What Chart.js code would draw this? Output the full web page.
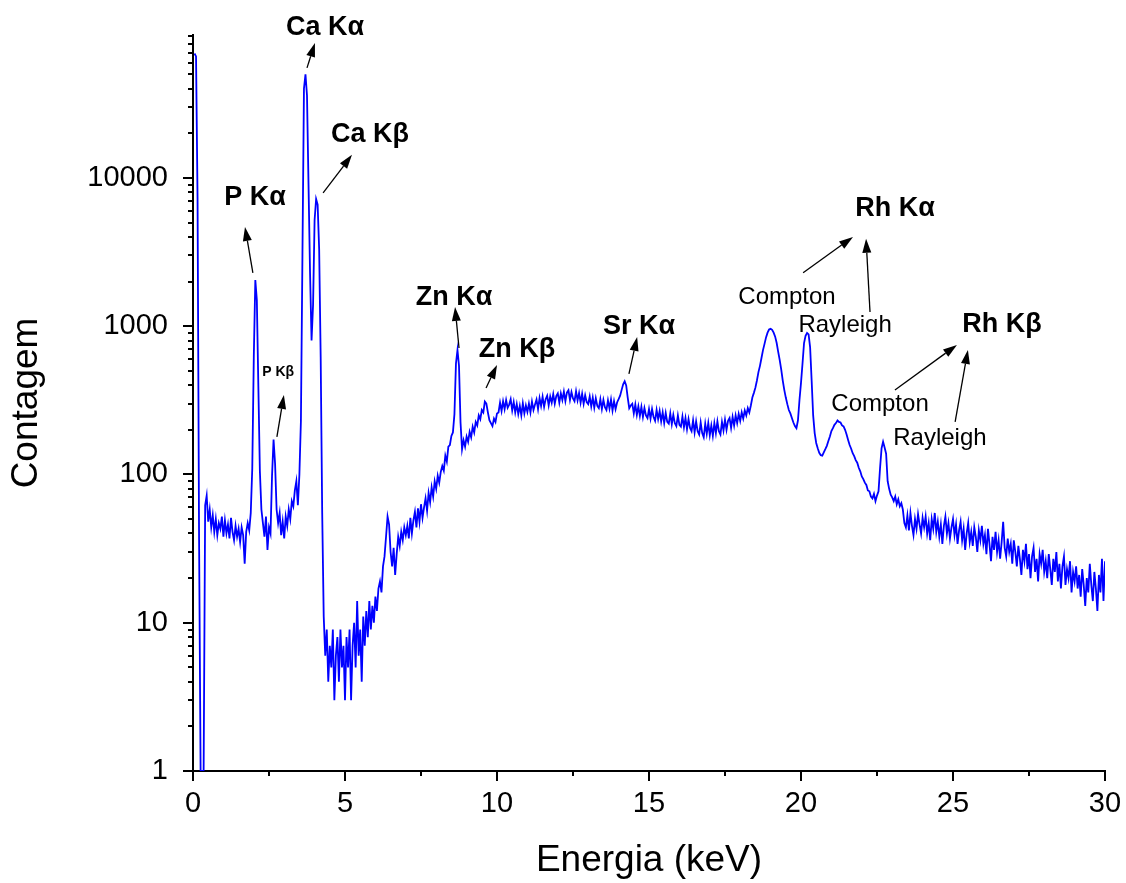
<!DOCTYPE html>
<html lang="pt">
<head>
<meta charset="UTF-8">
<title>Espectro de XRF</title>
<style>
  body { margin: 0; background: #fff; }
  #espectro { display: block; }
</style>
</head>
<body>
<canvas id="espectro" width="1126" height="883"></canvas>
<script src="https://cdn.jsdelivr.net/npm/chart.js@4.4.0/dist/chart.umd.min.js"></script>
<script>
// Contagens por canal, 0,05 keV por canal (primeiro canal em 0,05 keV).
// Uma linha por keV, 20 canais cada.
const passoKeV = 0.05;
const contagem = [
  69000, 66000, 7200, 36, 1, 1, 1, 62, 72, 48, 58, 44, 53, 41, 50, 39, 47, 43, 52, 38,
  49, 40, 46, 37, 51, 41, 36, 45, 38, 43, 35, 44, 39, 25, 41, 47, 42, 55, 110, 620,
  2050, 1500, 390, 105, 58, 47, 38, 52, 31, 44, 40, 98, 172, 118, 58, 47, 55, 39, 48, 37,
  52, 45, 58, 50, 66, 61, 78, 90, 62, 100, 230, 3000, 40000, 50000, 36000, 9000, 2300, 800, 1400, 5200,
  7200, 6600, 3300, 620, 55, 11, 6, 9, 4, 7, 5, 9, 3, 6, 8, 4, 9, 5, 7, 3,
  8, 5, 9, 3, 7, 10, 5, 14, 6, 9, 4, 11, 7, 12, 8, 14, 9, 13, 10, 15,
  12, 17, 19, 16, 24, 28, 38, 52, 46, 30, 24, 32, 21, 29, 38, 33, 41, 36, 44, 39,
  45, 37, 51, 40, 49, 56, 44, 59, 48, 63, 51, 60, 69, 57, 75, 65, 82, 71, 90, 80,
  98, 88, 104, 114, 106, 134, 122, 154, 158, 182, 192, 255, 560, 690, 540, 225, 148, 170, 154, 180,
  166, 194, 178, 210, 192, 226, 214, 250, 236, 272, 262, 310, 300, 262, 232, 222, 212, 238, 226, 258,
  262, 305, 268, 312, 276, 318, 282, 296, 322, 270, 308, 262, 298, 255, 290, 250, 302, 258, 292, 264,
  300, 262, 310, 272, 296, 320, 276, 328, 290, 334, 286, 322, 340, 292, 336, 305, 348, 300, 338, 352,
  305, 352, 318, 362, 312, 356, 370, 318, 360, 326, 312, 364, 316, 354, 305, 350, 300, 342, 308, 298,
  336, 288, 330, 282, 326, 290, 280, 322, 276, 318, 284, 272, 316, 278, 320, 270, 312, 276, 306, 322,
  340, 372, 405, 425, 398, 330, 280, 292, 300, 258, 296, 252, 288, 248, 286, 244, 280, 250, 240, 276,
  238, 276, 244, 230, 272, 236, 268, 228, 262, 222, 260, 226, 220, 258, 218, 252, 222, 212, 250, 216,
  210, 246, 208, 240, 202, 236, 206, 196, 232, 192, 228, 196, 186, 224, 190, 178, 220, 188, 222, 184,
  214, 182, 222, 190, 228, 196, 186, 226, 198, 234, 200, 230, 240, 206, 244, 214, 250, 222, 256, 230,
  262, 238, 270, 250, 280, 262, 292, 330, 355, 385, 430, 490, 540, 610, 690, 760, 840, 905, 950, 960,
  945, 905, 850, 770, 670, 590, 510, 430, 372, 330, 298, 272, 258, 240, 224, 212, 205, 232, 318, 415,
  560, 770, 860, 900, 880, 720, 430, 250, 190, 163, 150, 140, 135, 134, 141, 148, 156, 168, 180, 196,
  205, 216, 222, 231, 226, 224, 214, 211, 200, 186, 171, 158, 149, 139, 133, 125, 120, 111, 105, 97,
  93, 88, 85, 78, 77, 71, 69, 74, 66, 72, 77, 110, 150, 166, 152, 138, 90, 80, 73, 70,
  66, 71, 63, 68, 61, 64, 58, 47, 44, 53, 42, 55, 45, 39, 50, 43, 54, 46, 40, 51,
  44, 52, 40, 47, 36, 50, 43, 55, 41, 48, 38, 46, 34, 45, 52, 40, 47, 37, 44, 50,
  39, 46, 34, 42, 48, 36, 43, 31, 40, 47, 35, 41, 33, 44, 38, 30, 42, 36, 45, 34,
  39, 29, 43, 34, 26, 38, 31, 41, 30, 36, 27, 35, 48, 32, 28, 37, 30, 34, 25, 36,
  30, 24, 33, 27, 21, 31, 26, 34, 23, 29, 20, 28, 32, 22, 27, 19, 29, 25, 31, 22,
  26, 20, 29, 23, 18, 27, 22, 30, 19, 25, 17, 24, 28, 18, 23, 20, 26, 16, 22, 19,
  24, 17, 21, 15, 23, 18, 13, 20, 16, 25, 18, 14, 22, 17, 12, 21, 16, 27, 14, 26
];
// calibração em energia dos canais
const energia = contagem.map((_, i) => +((i + 1) * passoKeV).toFixed(2));

const marcasY = [1, 10, 100, 1000, 10000];
const limitesX = [0, 30];
const limitesY = [1, 92000];

// identificação das linhas (energia em keV, contagem onde fica o texto)
const rotulos = [
  { texto: 'Ca Kα', e: 4.34, c: 102800, tipo: 'linha' },
  { texto: 'Ca Kβ', e: 5.82, c: 19500, tipo: 'linha' },
  { texto: 'P Kα', e: 2.04, c: 7330, tipo: 'linha' },
  { texto: 'P Kβ', e: 2.80, c: 491, tipo: 'menor' },
  { texto: 'Zn Kα', e: 8.59, c: 1552, tipo: 'linha' },
  { texto: 'Zn Kβ', e: 10.66, c: 692, tipo: 'linha' },
  { texto: 'Sr Kα', e: 14.67, c: 988, tipo: 'linha' },
  { texto: 'Rh Kα', e: 23.09, c: 6180, tipo: 'linha' },
  { texto: 'Compton', e: 19.54, c: 1575, tipo: 'espalhamento' },
  { texto: 'Rayleigh', e: 21.45, c: 1020, tipo: 'espalhamento' },
  { texto: 'Rh Kβ', e: 26.61, c: 1020, tipo: 'linha' },
  { texto: 'Compton', e: 22.60, c: 299, tipo: 'espalhamento' },
  { texto: 'Rayleigh', e: 24.57, c: 174, tipo: 'espalhamento' }
];

// setas: [energia início, contagem início, energia ponta, contagem ponta]
const setas = [
  [3.75, 55200, 4.01, 81400],
  [4.28, 7920, 5.23, 14300],
  [1.97, 2290, 1.71, 4670],
  [2.76, 179, 2.99, 344],
  [8.75, 713, 8.62, 1349],
  [9.64, 383, 10.0, 548],
  [14.34, 476, 14.61, 846],
  [20.07, 2290, 21.71, 4000],
  [22.27, 1248, 22.14, 3880],
  [23.09, 371, 25.13, 748],
  [25.07, 226, 25.49, 692]
];

const familia = '"Liberation Sans", Arial, sans-serif';
const fontes = {
  linha: 'bold 27px ' + familia,
  menor: 'bold 14px ' + familia,
  espalhamento: '24px ' + familia
};

// marcas dos eixos: principais e secundárias, todas para fora
const marcasEixos = {
  id: 'marcasEixos',
  afterDraw(chart) {
    const { ctx, scales: { x, y } } = chart;
    ctx.save();
    ctx.strokeStyle = '#000';
    ctx.lineWidth = 2;
    ctx.beginPath();
    for (let e = limitesX[0]; e <= limitesX[1]; e += 2.5) {
      const px = Math.round(x.getPixelForValue(e));
      const len = e % 5 === 0 ? 10 : 5;
      ctx.moveTo(px, y.bottom);
      ctx.lineTo(px, y.bottom + len);
    }
    for (const d of marcasY) {
      for (let m = 1; m <= 9; m++) {
        const v = d * m;
        if (v > y.max) break;
        const py = Math.round(y.getPixelForValue(v));
        const len = m === 1 ? 10 : 5;
        ctx.moveTo(x.left, py);
        ctx.lineTo(x.left - len, py);
      }
    }
    ctx.stroke();
    ctx.restore();
  }
};

const anotacoes = {
  id: 'anotacoes',
  afterDatasetsDraw(chart) {
    const { ctx, scales: { x, y } } = chart;
    ctx.save();
    ctx.fillStyle = '#000';
    ctx.strokeStyle = '#000';
    ctx.textAlign = 'center';
    ctx.textBaseline = 'middle';
    rotulos.forEach(r => {
      ctx.font = fontes[r.tipo];
      ctx.fillText(r.texto, x.getPixelForValue(r.e), y.getPixelForValue(r.c));
    });
    ctx.lineWidth = 1.3;
    setas.forEach(([e0, c0, e1, c1]) => {
      const x0 = x.getPixelForValue(e0), y0 = y.getPixelForValue(c0);
      const x1 = x.getPixelForValue(e1), y1 = y.getPixelForValue(c1);
      const ang = Math.atan2(y1 - y0, x1 - x0);
      const cab = 14, meia = 4.5;
      const bx = x1 - cab * Math.cos(ang), by = y1 - cab * Math.sin(ang);
      ctx.beginPath();
      ctx.moveTo(x0, y0);
      ctx.lineTo(bx, by);
      ctx.stroke();
      ctx.beginPath();
      ctx.moveTo(x1, y1);
      ctx.lineTo(bx + meia * Math.sin(ang), by - meia * Math.cos(ang));
      ctx.lineTo(bx - meia * Math.sin(ang), by + meia * Math.cos(ang));
      ctx.closePath();
      ctx.fill();
    });
    ctx.restore();
  }
};

// tamanho fixo das caixas dos eixos, sem folga extra para os rótulos das pontas
function fixaCaixa(s, tamanho) {
  if (s.isHorizontal()) s.height = tamanho; else s.width = tamanho;
  s.paddingTop = s.paddingBottom = s.paddingLeft = s.paddingRight = 0;
}

const fonteEixo = { family: familia, size: 29 };
const fonteTitulo = { family: familia, size: 37 };

new Chart(document.getElementById('espectro'), {
  type: 'line',
  data: {
    labels: energia,
    datasets: [{
      data: contagem,
      borderColor: '#0000ff',
      borderWidth: 1.8,
      pointRadius: 0,
      tension: 0,
      fill: false
    }]
  },
  options: {
    responsive: false,
    animation: false,
    devicePixelRatio: 1,
    layout: { padding: { top: 35, right: 21, left: 0, bottom: 0 } },
    plugins: { legend: { display: false }, tooltip: { enabled: false } },
    scales: {
      x: {
        type: 'linear',
        min: limitesX[0],
        max: limitesX[1],
        afterFit(s) { fixaCaixa(s, 112); },
        grid: { display: false, drawTicks: false },
        border: { display: true, color: '#000', width: 2 },
        ticks: { stepSize: 5, color: '#000', font: fonteEixo, padding: 16, maxRotation: 0 },
        title: { display: true, text: 'Energia (keV)', color: '#000', font: fonteTitulo, padding: { top: 0, bottom: 0 } }
      },
      y: {
        type: 'logarithmic',
        min: limitesY[0],
        max: limitesY[1],
        afterFit(s) { fixaCaixa(s, 193); },
        afterBuildTicks(s) { s.ticks = marcasY.map(v => ({ value: v })); },
        grid: { display: false, drawTicks: false },
        border: { display: true, color: '#000', width: 2 },
        ticks: { color: '#000', font: fonteEixo, padding: 25, callback: v => String(v) },
        title: { display: true, text: 'Contagem', color: '#000', font: fonteTitulo, padding: { top: 5, bottom: 0 } }
      }
    }
  },
  plugins: [marcasEixos, anotacoes]
});
</script>
</body>
</html>
